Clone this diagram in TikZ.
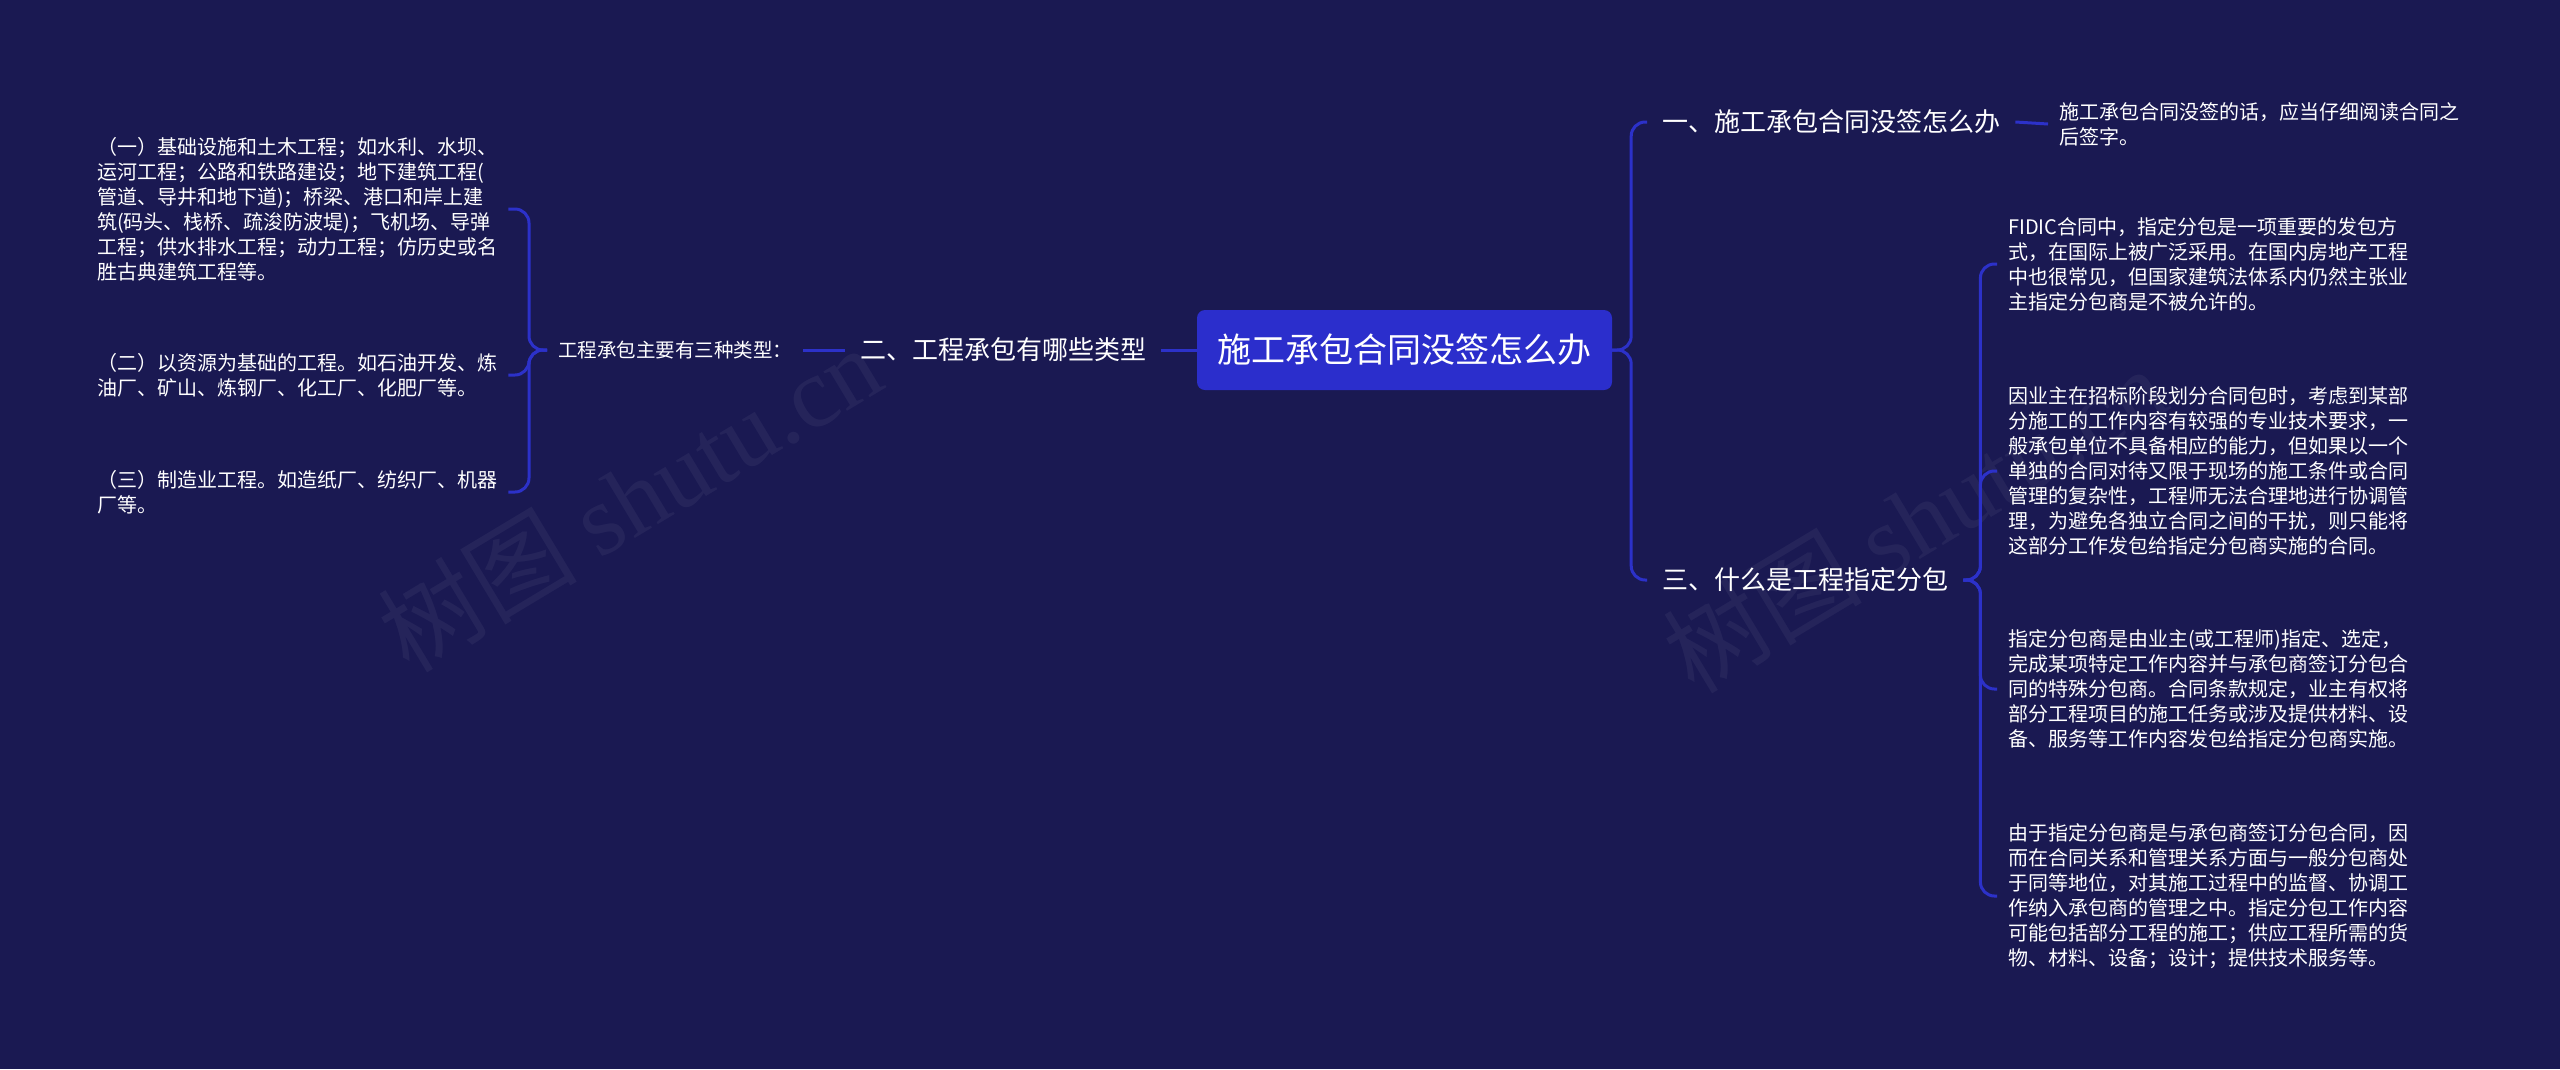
\documentclass[tikz,border=0pt]{standalone}
\usepackage{fontspec}
\setmainfont{Noto Sans CJK SC}
\newfontfamily\wmfont{Liberation Serif}
\definecolor{bg}{HTML}{1A1952}
\definecolor{rootfill}{HTML}{2B2ECC}
\definecolor{linec}{HTML}{2C31C9}
\begin{document}
\begin{tikzpicture}[x=1pt,y=-1pt,
 conn/.style={draw=linec,line width=3pt,rounded corners=14pt},
 rootbox/.style={fill=rootfill,rounded corners=8pt,text=white,font=\fontsize{34}{40}\selectfont,minimum width=415pt,minimum height=80pt,inner sep=0pt},
 mid/.style={text=white,font=\fontsize{26}{30}\selectfont,inner xsep=15pt,inner ysep=0pt},
 sub/.style={text=white,font=\fontsize{19.5}{25}\selectfont,inner xsep=11pt,inner ysep=0pt},
 leaf/.style={text=white,font=\fontsize{20}{25}\selectfont,align=left,inner xsep=11pt,inner ysep=0pt},
 wm/.style={text=white,opacity=0.05,rotate=31,font=\fontsize{100}{110}\selectfont}
]
\fill[bg] (0,0) rectangle (2560,1069);
\useasboundingbox (0,0) rectangle (2560,1069);

\node[wm] (wm1) at (629,498) {树图 {\wmfont shutu.cn}};
\node[wm] (wm2) at (1914,519) {树图 {\wmfont shutu.cn}};

\node[rootbox] (root) at (1404.5,350) {施工承包合同没签怎么办};
\node[mid] (n2) at (1003,350) {二、工程承包有哪些类型};
\node[sub,anchor=west] (n3) at (547,350) {工程承包主要有三种类型：};

\node[leaf,anchor=west] (l1) at (86,209) {（一）基础设施和土木工程；如水利、水坝、\\运河工程；公路和铁路建设；地下建筑工程(\\管道、导井和地下道)；桥梁、港口和岸上建\\筑(码头、栈桥、疏浚防波堤)；飞机场、导弹\\工程；供水排水工程；动力工程；仿历史或名\\胜古典建筑工程等。};
\node[leaf,anchor=west] (l2) at (86,375) {（二）以资源为基础的工程。如石油开发、炼\\油厂、矿山、炼钢厂、化工厂、化肥厂等。};
\node[leaf,anchor=west] (l3) at (86,492) {（三）制造业工程。如造纸厂、纺织厂、机器\\厂等。};

\node[mid,anchor=west] (n1) at (1647,122) {一、施工承包合同没签怎么办};
\node[leaf,anchor=west] (la) at (2048,124) {施工承包合同没签的话，应当仔细阅读合同之\\后签字。};
\node[mid,anchor=west] (n4) at (1647,580) {三、什么是工程指定分包};

\node[leaf,anchor=west] (r1) at (1997,264) {FIDIC合同中，指定分包是一项重要的发包方\\式，在国际上被广泛采用。在国内房地产工程\\中也很常见，但国家建筑法体系内仍然主张业\\主指定分包商是不被允许的。};
\node[leaf,anchor=west] (r2) at (1997,471) {因业主在招标阶段划分合同包时，考虑到某部\\分施工的工作内容有较强的专业技术要求，一\\般承包单位不具备相应的能力，但如果以一个\\单独的合同对待又限于现场的施工条件或合同\\管理的复杂性，工程师无法合理地进行协调管\\理，为避免各独立合同之间的干扰，则只能将\\这部分工作发包给指定分包商实施的合同。};
\node[leaf,anchor=west] (r3) at (1997,689) {指定分包商是由业主(或工程师)指定、选定，\\完成某项特定工作内容并与承包商签订分包合\\同的特殊分包商。合同条款规定，业主有权将\\部分工程项目的施工任务或涉及提供材料、设\\备、服务等工作内容发包给指定分包商实施。};
\node[leaf,anchor=west] (r4) at (1997,896) {由于指定分包商是与承包商签订分包合同，因\\而在合同关系和管理关系方面与一般分包商处\\于同等地位，对其施工过程中的监督、协调工\\作纳入承包商的管理之中。指定分包工作内容\\可能包括部分工程的施工；供应工程所需的货\\物、材料、设备；设计；提供技术服务等。};

\draw[conn] (root.west) -- (n2.east);
\draw[conn] (n2.west) -- (n3.east);
\foreach \t in {l1,l2,l3} \draw[conn] (n3.west) -- ++(-18,0) |- (\t.east);
\foreach \t in {n1,n4} \draw[conn] (root.east) -- ++(19,0) |- (\t.west);
\draw[conn] (n1.east) -- (la.west);
\foreach \t in {r1,r2,r3,r4} \draw[conn] (n4.east) -- ++(17,0) |- (\t.west);
\end{tikzpicture}
\end{document}
